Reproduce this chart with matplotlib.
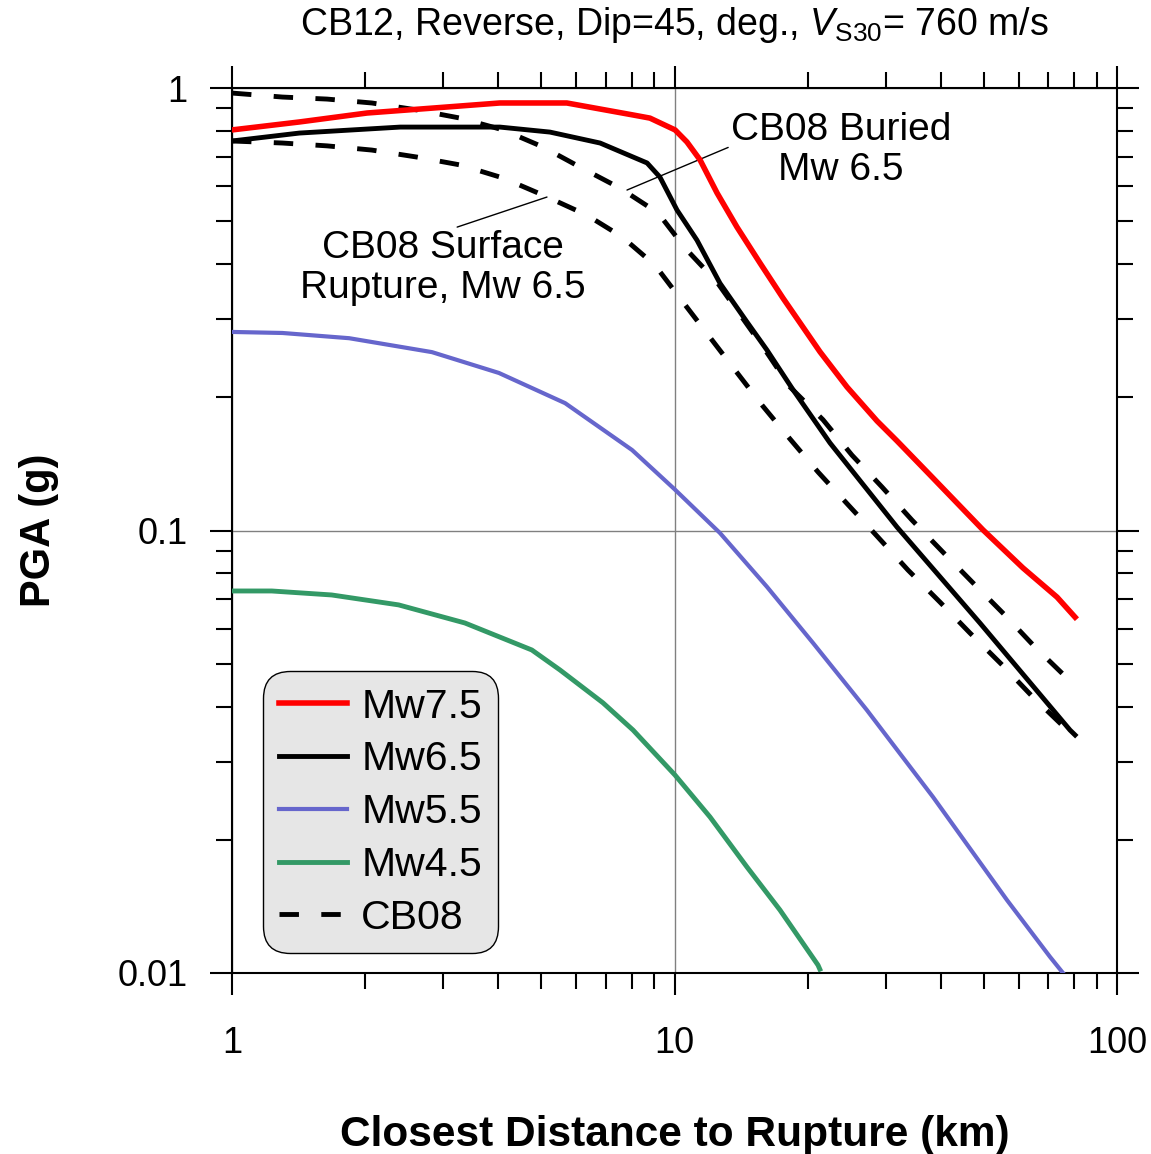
import matplotlib
matplotlib.use("Agg")
import matplotlib.pyplot as plt
from matplotlib.ticker import FixedLocator, FuncFormatter, LogLocator, NullFormatter

plt.rcParams['font.family'] = ['Liberation Sans', 'DejaVu Sans']
plt.rcParams['mathtext.fontset'] = 'custom'
plt.rcParams['mathtext.rm'] = 'Liberation Sans'
plt.rcParams['mathtext.it'] = 'Liberation Sans:italic'

# CB12 curves (distance km, PGA g)
r_m75 = [1.0, 1.42, 2.02, 2.85, 4.03, 5.71, 8.06, 8.80, 10.03, 10.67, 11.42, 12.48, 13.84,
         15.61, 17.59, 21.32, 24.54, 28.69, 31.83, 37.8, 49.8, 61.3, 73.2, 80.4]
pga_m75 = [0.804, 0.838, 0.878, 0.901, 0.925, 0.925, 0.869, 0.855, 0.804, 0.755, 0.688, 0.579, 0.485,
           0.402, 0.335, 0.2534, 0.211, 0.1768, 0.1594, 0.1335, 0.1003, 0.0823, 0.0707, 0.0637]

r_m65 = [1.0, 1.42, 2.40, 4.03, 5.23, 6.79, 8.67, 9.27, 10.13, 11.24, 12.67, 14.58, 16.18,
         18.53, 22.46, 31.83, 49.0, 78.3, 80.4]
pga_m65 = [0.759, 0.791, 0.816, 0.816, 0.795, 0.751, 0.677, 0.629, 0.530, 0.453, 0.362, 0.296, 0.2557,
           0.208, 0.1577, 0.1018, 0.0618, 0.0354, 0.0345]

r_m55 = [1.0, 1.30, 1.84, 2.83, 4.01, 5.66, 8.02, 10.0, 12.67, 16.18, 20.56, 27.2, 38.4, 56.4,
         70.6, 75.5]
pga_m55 = [0.281, 0.2795, 0.272, 0.253, 0.227, 0.194, 0.152, 0.124, 0.0987, 0.0746, 0.0557, 0.0393,
           0.02498, 0.01462, 0.01087, 0.0100]

r_m45 = [1.0, 1.23, 1.68, 2.38, 3.36, 4.76, 5.51, 6.89, 8.06, 10.03, 12.03, 14.58, 17.31, 21.1, 21.3]
pga_m45 = [0.073, 0.073, 0.0715, 0.0679, 0.0618, 0.0537, 0.0484, 0.0408, 0.0354, 0.0280, 0.02252,
           0.01736, 0.01388, 0.01042, 0.0102]

# CB08 curves, Mw 6.5
r_buried = [1.0, 1.30, 1.64, 2.07, 2.62, 3.28, 4.10, 5.04, 6.11, 7.53, 9.18, 10.56, 12.48, 16.02,
            18.24, 21.65, 25.18, 29.44, 34.4, 40.4, 47.3, 55.8, 65.3, 77.1, 80.4]
pga_buried = [0.974, 0.954, 0.944, 0.925, 0.892, 0.855, 0.804, 0.736, 0.663, 0.594, 0.522, 0.435,
              0.364, 0.256, 0.211, 0.178, 0.148, 0.1254, 0.1056, 0.0894, 0.0761, 0.0644, 0.0545,
              0.0464, 0.045]

r_surface = [1.0, 1.30, 1.64, 2.07, 2.62, 3.28, 4.10, 5.04, 6.34, 7.61, 9.03, 10.29, 11.9, 13.7,
             15.77, 18.24, 21.1, 24.7, 28.8, 33.7, 39.8, 46.5, 55.0, 64.6, 76.3, 80.9]
pga_surface = [0.759, 0.751, 0.740, 0.724, 0.698, 0.670, 0.626, 0.573, 0.516, 0.461, 0.398, 0.335,
               0.277, 0.2305, 0.192, 0.161, 0.1356, 0.1142, 0.0967, 0.0814, 0.0689, 0.0587, 0.0497,
               0.042, 0.0358, 0.0345]

xticks = [1, 10, 100]
yticks = [0.01, 0.1, 1]

fig = plt.figure(figsize=(11.51, 11.54), dpi=100)
ax = fig.add_axes([232 / 1151, 1 - 973 / 1154, 885 / 1151, 885 / 1154])

ax.plot(r_m75, pga_m75, color='#ff0000', lw=4.0, label='Mw7.5', zorder=5)
ax.plot(r_m65, pga_m65, color='black', lw=3.5, label='Mw6.5', zorder=4)
ax.plot(r_m55, pga_m55, color='#6666cc', lw=3.0, label='Mw5.5', zorder=4)
ax.plot(r_m45, pga_m45, color='#339966', lw=3.5, label='Mw4.5', zorder=4)
ax.plot(r_buried, pga_buried, color='black', lw=3.5, dashes=(4.0, 4.6), label='CB08', zorder=4)
ax.plot(r_surface, pga_surface, color='black', lw=3.5, dashes=(4.0, 4.6), zorder=4)

ax.set_xscale('log')
ax.set_yscale('log')
ax.set_xlim(1, 100)
ax.set_ylim(0.01, 1)

ax.xaxis.set_major_locator(FixedLocator(xticks))
ax.yaxis.set_major_locator(FixedLocator(yticks))
ax.xaxis.set_minor_locator(LogLocator(base=10, subs=range(2, 10)))
ax.yaxis.set_minor_locator(LogLocator(base=10, subs=range(2, 10)))
ax.xaxis.set_major_formatter(FuncFormatter(lambda v, p: '%g' % v))
ax.yaxis.set_major_formatter(FuncFormatter(lambda v, p: '%g' % v))
ax.xaxis.set_minor_formatter(NullFormatter())
ax.yaxis.set_minor_formatter(NullFormatter())

ax.tick_params(which='both', direction='out', top=True, right=True, width=1.5, labelsize=26)
ax.tick_params(which='major', length=16)
ax.tick_params(which='minor', length=11.5)
ax.tick_params(axis='x', which='major', pad=22)
ax.tick_params(axis='y', which='major', pad=16)
for s in ax.spines.values():
    s.set_linewidth(1.5)

ax.grid(True, which='major', color='#808080', lw=1.0)

ax.set_xlabel('Closest Distance to Rupture (km)', fontsize=30.5, fontweight='bold')
ax.set_ylabel('PGA (g)', fontsize=30, fontweight='bold')
ax.xaxis.set_label_coords(0.5, -0.16)
ax.yaxis.set_label_coords(-0.195, 0.5)

fig.text(674.5 / 1151, 1 - 25 / 1154,
         r'CB12, Reverse, Dip=45, deg., $V_{\rm S30}$= 760 m/s',
         ha='center', va='center', fontsize=27)

ax.annotate('CB08 Buried\nMw 6.5', xy=(7.81, 0.588), xytext=(23.8, 0.724),
            ha='center', va='center', fontsize=28, linespacing=1.15,
            arrowprops=dict(arrowstyle='-', lw=1.0, color='black',
                            shrinkA=0, shrinkB=0, relpos=(0.0, 0.55)))
ax.annotate('CB08 Surface\nRupture, Mw 6.5', xy=(5.15, 0.567), xytext=(3.0, 0.392),
            ha='center', va='center', fontsize=28, linespacing=1.15,
            arrowprops=dict(arrowstyle='-', lw=1.0, color='black',
                            shrinkA=0, shrinkB=0, relpos=(0.52, 1.0)))

leg = ax.legend(loc='lower left', bbox_to_anchor=(0.035, 0.0226), borderaxespad=0,
                fontsize=29.5, handlelength=1.65, handletextpad=0.35, labelspacing=0.36,
                borderpad=0.4, fancybox=True, framealpha=1, facecolor='#e6e6e6',
                edgecolor='black')
leg.get_frame().set_linewidth(1.0)
leg.get_frame().set_boxstyle('round,pad=0,rounding_size=0.65')
leg.set_zorder(6)

fig.savefig('out.png', dpi=100)
